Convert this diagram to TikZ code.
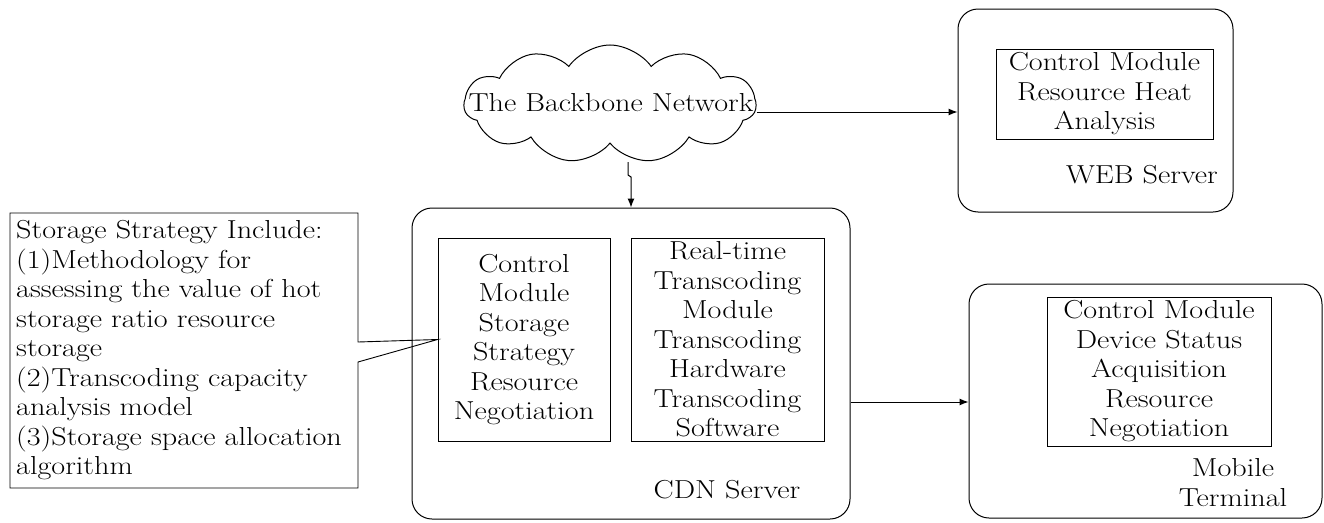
\documentclass[tikz,border=0pt]{standalone}
\usepackage{fontspec}
\setmainfont{Latin Modern Roman}[FakeStretch=1.16]
\usetikzlibrary{shapes.symbols,arrows.meta}
\begin{document}
\begin{tikzpicture}[x=1pt,y=-1pt,
  every node/.style={font=\fontsize{26}{29.5}\selectfont, inner sep=0pt},
  server/.style={draw, line width=1pt, rounded corners=20pt},
  module/.style={draw, line width=0.9pt, align=center},
  arr/.style={line width=1pt, -{Latex[length=9pt,width=7pt]}},
  thin line/.style={line width=0.9pt}]
\useasboundingbox (0,0) rectangle (1324,522);

% cloud for the backbone
\node[cloud, draw, line width=1pt, cloud puffs=11, cloud puff arc=110, aspect=2.5,
      minimum width=292pt, minimum height=118pt] (net) at (610,104) {};
\node (nettext) at (611,103) {The Backbone Network};

% servers
\node[server, minimum width=438pt, minimum height=311pt] (cdn) at (631,363.5) {};
\node[server, minimum width=275pt, minimum height=203pt] (web) at (1095.5,110.5) {};
\node[server, minimum width=353pt, minimum height=234pt] (mob) at (1145.5,401) {};

% modules inside the servers
\node[module, minimum width=172pt, minimum height=203pt] (cdnL) at (524,339.5)
  {Control\\Module\\Storage\\Strategy\\Resource\\Negotiation};
\node[module, minimum width=193pt, minimum height=203pt] (cdnR) at (727.5,339.5)
  {Real-time\\Transcoding\\Module\\Transcoding\\Hardware\\Transcoding\\Software};
\node[module, minimum width=217pt, minimum height=90pt] (webM) at (1104.5,94)
  {Control Module\\Resource Heat\\Analysis};
\node[module, minimum width=224pt, minimum height=149pt] (mobM) at (1159,371.5)
  {Control Module\\Device Status\\Acquisition\\Resource\\Negotiation};

% server labels
\node (cdnlab) at (727,490) {CDN Server};
\node (weblab) at (1142,175) {WEB Server};
\node[align=center] (moblab) at (1233,482.5) {Mobile\\Terminal};

% callout with the storage strategy
\draw[thin line] (358,342) -- (358,213) -- (10,213) -- (10,488) -- (358,488)
  -- (358,362) -- (cdnL.west) -- cycle;
\node[align=left, anchor=west] (strat) at (16,350.5)
  {Storage Strategy Include:\\(1)Methodology for\\assessing the value of hot\\storage ratio resource\\storage\\(2)Transcoding capacity\\analysis model\\(3)Storage space allocation\\algorithm};

% connectors
\draw[arr] ([yshift=-8pt]net.east) -- ([yshift=-8pt]net.east -| web.west);
\coordinate (drop) at (628,162);
\draw[arr] (drop) -- ++(0,13) -- ++(3,2) -- (cdn.north);
\draw[arr] ([yshift=-38.5pt]cdn.east) -- ([yshift=-38.5pt]cdn.east -| mob.west);
\end{tikzpicture}
\end{document}
